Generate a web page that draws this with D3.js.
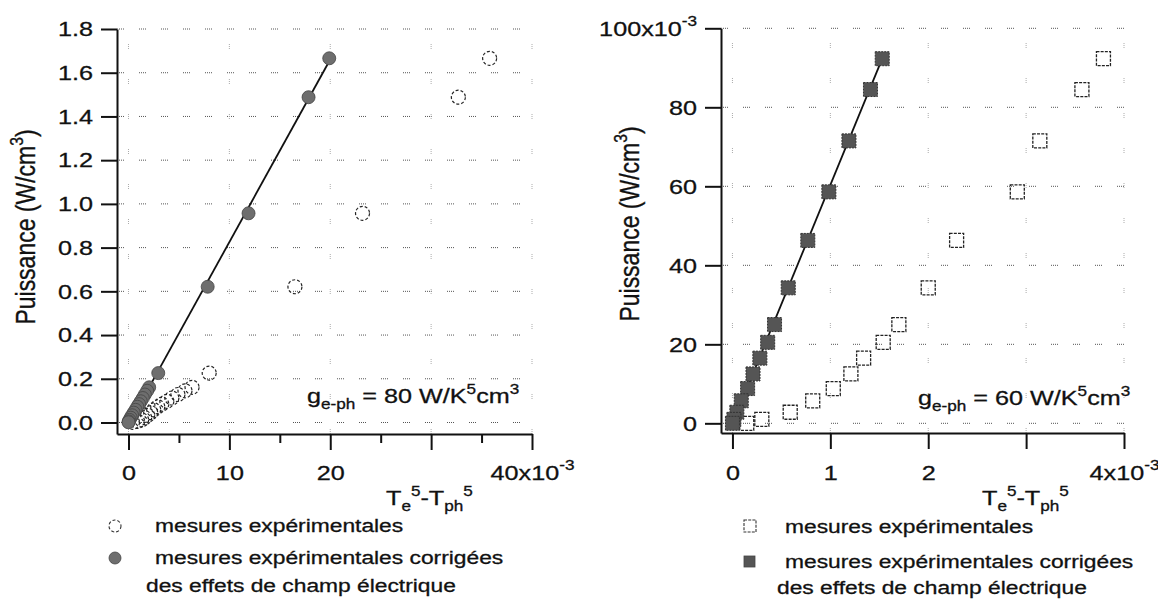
<!DOCTYPE html>
<html><head><meta charset="utf-8">
<script src="https://cdn.jsdelivr.net/npm/d3@7"></script>
<style>
body{margin:0;background:#fff}
svg{display:block;background:#fff}
text{font-family:"Liberation Sans",Arial,Helvetica,sans-serif;fill:#111;stroke:#111;stroke-width:0.3}
</style>
</head><body>
<svg id="c" width="1158" height="599"></svg>
<script>
// ---------------- DATA ----------------
// Left panel (g = 80 W/K^5cm^3); x in units of 1e-3, y in W/cm^3
const leftPower      = [1.666, 1.488, 0.957, 0.621, 0.226, 0.161, 0.145, 0.128, 0.112, 0.097, 0.084, 0.072, 0.058, 0.045, 0.033, 0.022, 0.012, 0.005, 0.001];
const leftXMeasured  = [35.8, 32.7, 23.2, 16.5, 8.0, 6.3, 5.6, 4.9, 4.3, 3.8, 3.3, 2.9, 2.5, 2.2, 1.9, 1.6, 1.3, 0.9, 0.4];
const leftXCorrected = [19.9, 17.85, 11.9, 7.85, 2.95, 2.05, 1.85, 1.62, 1.42, 1.22, 1.05, 0.88, 0.70, 0.52, 0.36, 0.22, 0.10, 0.03, 0.0];
const leftFitX = [0, 19.75];
const leftFitY = [-0.01, 1.64];
const leftYTicks = [0, 0.2, 0.4, 0.6, 0.8, 1.0, 1.2, 1.4, 1.6, 1.8];
const leftXTicks = [0, 10, 20, 30, 40];
const leftXTickLabels = ["0", "10", "20", "", "40x10^{-3}"];
const leftXMinorTicks = [5, 15, 25, 35];

// Right panel (g = 60 W/K^5cm^3); x in units of 1e-3, y in units of 1e-3 W/cm^3
const rightPower      = [92.3, 84.5, 71.5, 58.6, 46.3, 34.3, 25.0, 20.5, 16.5, 12.5, 8.8, 5.7, 2.8, 1.0, 0.0];
const rightXMeasured  = [3.79, 3.57, 3.14, 2.91, 2.29, 2.0, 1.70, 1.54, 1.34, 1.21, 1.03, 0.82, 0.59, 0.30, 0.146];
const rightXCorrected = [1.53, 1.41, 1.19, 0.985, 0.77, 0.57, 0.43, 0.36, 0.28, 0.21, 0.155, 0.09, 0.045, 0.015, 0.0];
const rightFitX = [0, 1.53];
const rightFitY = [0, 92.3];
const rightYTicks = [0, 20, 40, 60, 80, 100];
const rightYTickLabels = ["0", "20", "40", "60", "80", "100x10^{-3}"];
const rightXTicks = [0, 1, 2, 3, 4];
const rightXTickLabels = ["0", "1", "2", "", "4x10^{-3}"];

const yTitle = "Puissance (W/cm^{3})";
const xTitle = "T_{e}^{5}-T_{ph}^{5}";
const leftNote = "g_{e-ph} = 80 W/K^{5}cm^{3}";
const rightNote = "g_{e-ph} = 60 W/K^{5}cm^{3}";
const legendMeasured = "mesures expérimentales";
const legendCorrected1 = "mesures expérimentales corrigées";
const legendCorrected2 = "des effets de champ électrique";

// ---------------- DRAWING ----------------
const SX = 1.2; // horizontal stretch of the scanned lettering
const svg = d3.select("#c");

function rich(sel, s, size){
  sel.text(null);
  const toks = s.match(/\^\{[^}]*\}|_\{[^}]*\}|[^\^_]+/g) || [];
  let cur = 0;
  toks.forEach(t=>{
    let off = 0, fs = size, txt = t;
    if (t[0] === "^"){ off = -0.45*size; fs = 0.68*size; txt = t.slice(2,-1); }
    else if (t[0] === "_"){ off = 0.3*size; fs = 0.68*size; txt = t.slice(2,-1); }
    const ts = sel.append("tspan").attr("font-size", fs).text(txt);
    if (off - cur !== 0) ts.attr("dy", off - cur);
    cur = off;
  });
}
function label(parent, x, y, s, size, anchor){
  const g = parent.append("g").attr("transform", `translate(${x},${y}) scale(${SX},1)`);
  const t = g.append("text").attr("text-anchor", anchor || "start").attr("font-size", size);
  rich(t, s, size);
  return t;
}
function vlabel(parent, x, y, s, size){
  const g = parent.append("g").attr("transform", `translate(${x},${y}) rotate(-90) scale(1,${SX})`);
  const t = g.append("text").attr("text-anchor", "middle").attr("font-size", size);
  rich(t, s, size);
}

function panel(o){
  const g = svg.append("g");
  const x = o.x, y = o.y;
  const [xa, xb] = x.range(), [ya, yb] = y.range();
  // grid
  g.append("g").selectAll("line").data(o.yTicks).join("line")
    .attr("x1", xa).attr("x2", xb).attr("y1", d=>y(d)).attr("y2", d=>y(d))
    .attr("stroke", "#555").attr("stroke-width", 1)
    .attr("stroke-dasharray", "1,1,1,1,1,1,1,15");
  g.append("g").selectAll("line").data(o.xTicks).join("line")
    .attr("x1", d=>x(d)).attr("x2", d=>x(d)).attr("y1", ya).attr("y2", yb)
    .attr("stroke", "#aaa").attr("stroke-width", 1)
    .attr("stroke-dasharray", "1,1,1,1,1,30");
  // axes
  const ax = g.append("g").attr("transform", `translate(0,${ya})`)
    .call(d3.axisBottom(x).tickValues(o.xTicks).tickSize(16).tickPadding(o.xPad).tickSizeOuter(0).tickFormat(""));
  ax.selectAll("text").attr("font-size", 21).each(function(d,i){ rich(d3.select(this), o.xLabels[i], 21); })
    .attr("transform", `scale(${SX},1)`);
  if (o.xMinor){
    g.append("g").attr("transform", `translate(0,${ya})`)
      .call(d3.axisBottom(x).tickValues(o.xMinor).tickSize(9).tickFormat(""))
      .call(s=>s.select(".domain").remove());
  }
  const ay = g.append("g").attr("transform", `translate(${xa},0)`)
    .call(d3.axisLeft(y).tickValues(o.yTicks).tickSize(16).tickPadding(8).tickSizeOuter(0).tickFormat(""));
  ay.selectAll("text").attr("font-size", 21).each(function(d,i){ rich(d3.select(this), o.yLabels[i], 21); })
    .attr("x", -24/SX).attr("transform", `scale(${SX},1)`);
  g.selectAll(".domain, .tick line").attr("stroke", "#111").attr("stroke-width", 2);
  g.selectAll(".tick text").attr("fill", "#111").attr("font-family", null);
  return g;
}

// ---------- Left panel ----------
const xL = d3.scaleLinear().domain([-1.14, 40]).range([117, 532]);
const yL = d3.scaleLinear().domain([-0.0526, 1.8]).range([434, 29]);
const gL = panel({x:xL, y:yL, xTicks:leftXTicks, xLabels:leftXTickLabels, xMinor:leftXMinorTicks,
  yTicks:leftYTicks, yLabels:leftYTicks.map(d=>d3.format(".1f")(d)), xPad:15});

gL.append("g").selectAll("circle").data(d3.zip(leftXMeasured, leftPower)).join("circle")
  .attr("cx", d=>xL(d[0])).attr("cy", d=>yL(d[1])).attr("r", 7)
  .attr("fill", "none").attr("stroke", "#222").attr("stroke-width", 1.2).attr("stroke-dasharray", "3,2");
gL.append("line")
  .attr("x1", xL(leftFitX[0])).attr("y1", yL(leftFitY[0]))
  .attr("x2", xL(leftFitX[1])).attr("y2", yL(leftFitY[1]))
  .attr("stroke", "#111").attr("stroke-width", 1.8);
gL.append("g").selectAll("circle").data(d3.zip(leftXCorrected, leftPower)).join("circle")
  .attr("cx", d=>xL(d[0])).attr("cy", d=>yL(d[1])).attr("r", 6.5)
  .attr("fill", "#6e6e6e").attr("stroke", "#444").attr("stroke-width", 0.8);

vlabel(svg, 35, 227, yTitle, 23);
label(svg, 386, 505, xTitle, 21);
label(svg, 307, 403, leftNote, 21);
// legend
svg.append("circle").attr("cx", 115).attr("cy", 526).attr("r", 6)
  .attr("fill", "none").attr("stroke", "#333").attr("stroke-width", 1.1).attr("stroke-dasharray", "3,2");
svg.append("circle").attr("cx", 115).attr("cy", 558).attr("r", 6)
  .attr("fill", "#6e6e6e").attr("stroke", "#444").attr("stroke-width", 0.8);
label(svg, 155, 532, legendMeasured, 19);
label(svg, 155, 564, legendCorrected1, 19);
label(svg, 146, 592, legendCorrected2, 19);

// ---------- Right panel ----------
const xR = d3.scaleLinear().domain([-0.117, 4]).range([721, 1124]);
const yR = d3.scaleLinear().domain([-2.45, 100]).range([433, 28.3]);
const gR = panel({x:xR, y:yR, xTicks:rightXTicks, xLabels:rightXTickLabels,
  yTicks:rightYTicks, yLabels:rightYTickLabels, xPad:16});

const sq = 14;
gR.append("g").selectAll("rect").data(d3.zip(rightXMeasured, rightPower)).join("rect")
  .attr("x", d=>xR(d[0])-sq/2).attr("y", d=>yR(d[1])-sq/2).attr("width", sq).attr("height", sq)
  .attr("fill", "none").attr("stroke", "#222").attr("stroke-width", 1.3).attr("stroke-dasharray", "3,1.2");
gR.append("line")
  .attr("x1", xR(rightFitX[0])).attr("y1", yR(rightFitY[0]))
  .attr("x2", xR(rightFitX[1])).attr("y2", yR(rightFitY[1]))
  .attr("stroke", "#111").attr("stroke-width", 1.8);
gR.append("g").selectAll("rect").data(d3.zip(rightXCorrected, rightPower)).join("rect")
  .attr("x", d=>xR(d[0])-sq/2).attr("y", d=>yR(d[1])-sq/2).attr("width", sq).attr("height", sq)
  .attr("fill", "#555").attr("stroke", "#333").attr("stroke-width", 1).attr("stroke-dasharray", "2,1");

vlabel(svg, 639, 224, yTitle, 23);
label(svg, 982, 505, xTitle, 21);
label(svg, 918, 405, rightNote, 21);
svg.append("rect").attr("x", 744).attr("y", 520).attr("width", 12).attr("height", 12)
  .attr("fill", "none").attr("stroke", "#333").attr("stroke-width", 1.1).attr("stroke-dasharray", "3,1.2");
svg.append("rect").attr("x", 744).attr("y", 556).attr("width", 11).attr("height", 11)
  .attr("fill", "#555").attr("stroke", "#444").attr("stroke-width", 0.8);
label(svg, 785, 533, legendMeasured, 19);
label(svg, 785, 568, legendCorrected1, 19);
label(svg, 777, 594, legendCorrected2, 19);
</script>
</body></html>
